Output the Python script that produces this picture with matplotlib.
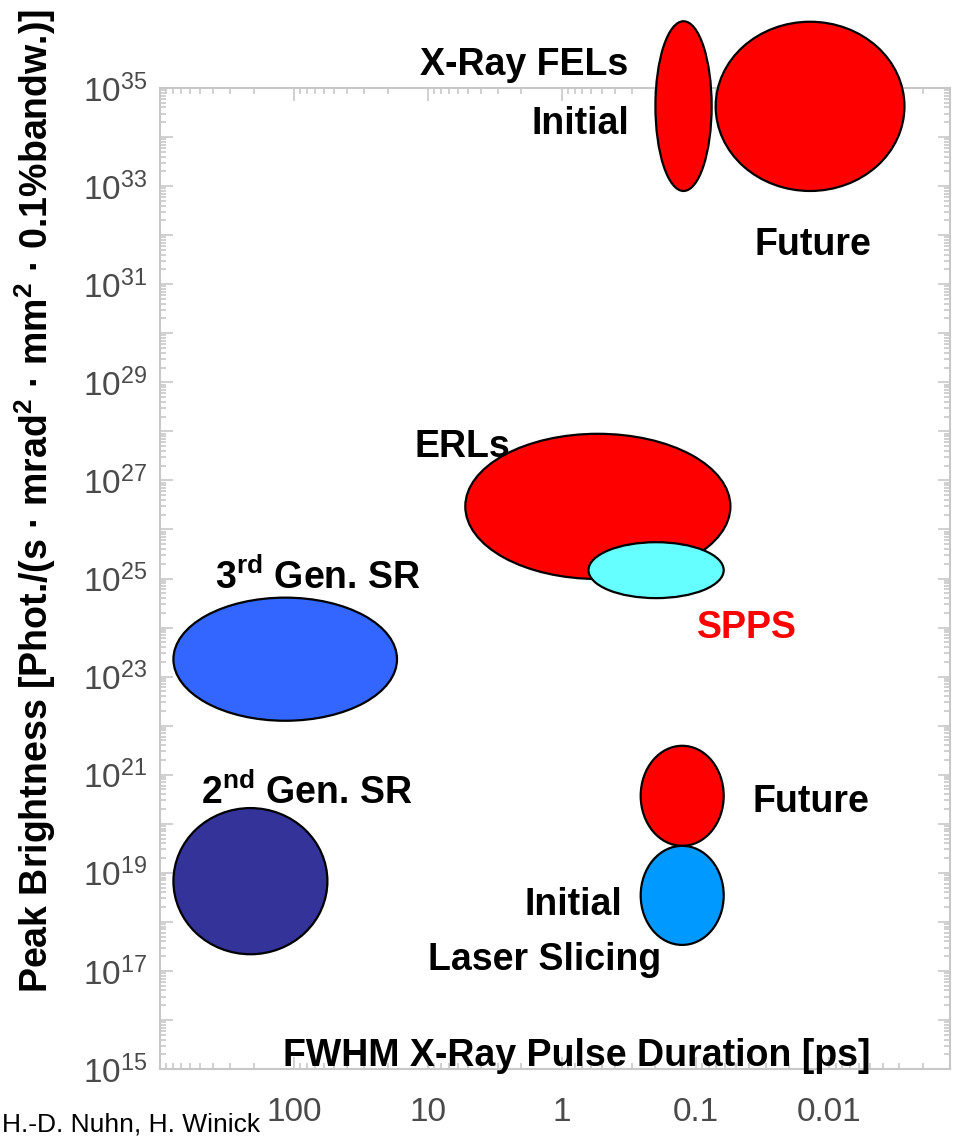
"""
Peak brightness vs. FWHM X-ray pulse duration of light sources
"""

import numpy as np
import matplotlib
matplotlib.use('Agg')
import matplotlib.pyplot as plt
from matplotlib.patches import Ellipse

plt.rcParams['font.family'] = ['Liberation Sans', 'DejaVu Sans']
plt.rcParams['mathtext.default'] = 'regular'

# source regions, in decades: log10(duration / ps) and log10(brightness)
sources = ['FEL initial', 'FEL future', 'ERLs', 'SPPS', '3rd Gen. SR',
           '2nd Gen. SR', 'Slicing future', 'Slicing initial']
dur_lo = [-1.12, -2.56, -1.26, -1.21, 1.23, 1.75, -1.21, -1.21]
dur_hi = [-0.70, -1.15, 0.72, -0.20, 2.90, 2.90, -0.59, -0.59]
bright_lo = [32.90, 32.90, 24.99, 24.60, 22.10, 17.34, 19.55, 17.53]
bright_hi = [36.36, 36.35, 27.95, 25.74, 24.61, 20.32, 21.59, 19.55]
fills = ['#ff0000', '#ff0000', '#ff0000', '#66ffff', '#3366ff',
         '#333399', '#ff0000', '#0099ff']

# annotations
label_text = ['X-Ray FELs', 'Initial', 'Future', 'ERLs', 'SPPS',
              '3$^{rd}$ Gen. SR', '2$^{nd}$ Gen. SR', 'Future', 'Initial',
              'Laser Slicing']
label_x = [0.28, -0.14, -1.88, 0.74, -1.38, 1.82, 1.90, -1.86, -0.09, 0.13]
label_y = [35.47, 34.27, 31.80, 27.68, 24.0, 25.01, 20.63, 20.44, 18.34, 17.22]
label_color = ['black', 'black', 'black', 'black', 'red', 'black', 'black',
               'black', 'black', 'black']

x_ticks = [2, 1, 0, -1, -2]
x_ticklabels = ['100', '10', '1', '0.1', '0.01']
y_major = list(range(15, 36))
y_labelled = list(range(15, 36, 2))

grey = '#c8c8c8'

fig = plt.figure(figsize=(9.56, 11.38), dpi=100)
ax = fig.add_axes([0.1674, 0.0606, 0.8263, 0.8621])
ax.set_xlim(3.0, -2.9)
ax.set_ylim(15, 35)

for lo, hi, blo, bhi, c in zip(dur_lo, dur_hi, bright_lo, bright_hi, fills):
    e = Ellipse(((lo + hi) / 2, (blo + bhi) / 2), hi - lo, bhi - blo,
                facecolor=c, edgecolor='black', linewidth=1.6,
                clip_on=False, zorder=3)
    ax.add_patch(e)

for t, x, y, c in zip(label_text, label_x, label_y, label_color):
    ax.text(x, y, t, ha='center', va='center', fontsize=27,
            fontweight='bold', color=c, clip_on=False, zorder=4)

# log style minor ticks inside each decade
sub = np.log10(np.arange(2, 10))
x_minor = [d + s for d in range(-3, 3) for s in sub if -2.9 <= d + s <= 3]
y_minor = [d + s for d in range(15, 35) for s in sub]

ax.set_xticks(x_ticks)
ax.set_xticklabels(x_ticklabels)
ax.set_xticks(x_minor, minor=True)
ax.set_yticks(y_major)
ax.set_yticklabels(['$10^{%d}$' % v if v in y_labelled else '' for v in y_major])
ax.set_yticks(y_minor, minor=True)

ax.tick_params(which='both', direction='in', color=grey, width=1.2,
               top=True, right=True)
ax.tick_params(which='major', length=9)
ax.tick_params(which='minor', length=4)
ax.tick_params(axis='y', which='major', pad=9, labelsize=24, labelcolor='#4a4a4a')
ax.tick_params(axis='x', which='major', pad=20, labelsize=24, labelcolor='#4a4a4a')
for sp in ax.spines.values():
    sp.set_color(grey)
    sp.set_linewidth(1.5)

ax.text(0.527, 0.003, 'FWHM X-Ray Pulse Duration [ps]', transform=ax.transAxes,
        ha='center', va='baseline', fontsize=27, fontweight='bold', zorder=4)

fig.text(0.037, 0.56,
         'Peak Brightness [Phot./(s · mrad$^2$ · mm$^2$ · 0.1%bandw.)]',
         rotation=90, ha='center', va='center', fontsize=27, fontweight='bold')

fig.text(0.002, 0.012, 'H.-D. Nuhn, H. Winick', ha='left', va='center',
         fontsize=19)

plt.savefig('out.png', dpi=100)
plt.close()
